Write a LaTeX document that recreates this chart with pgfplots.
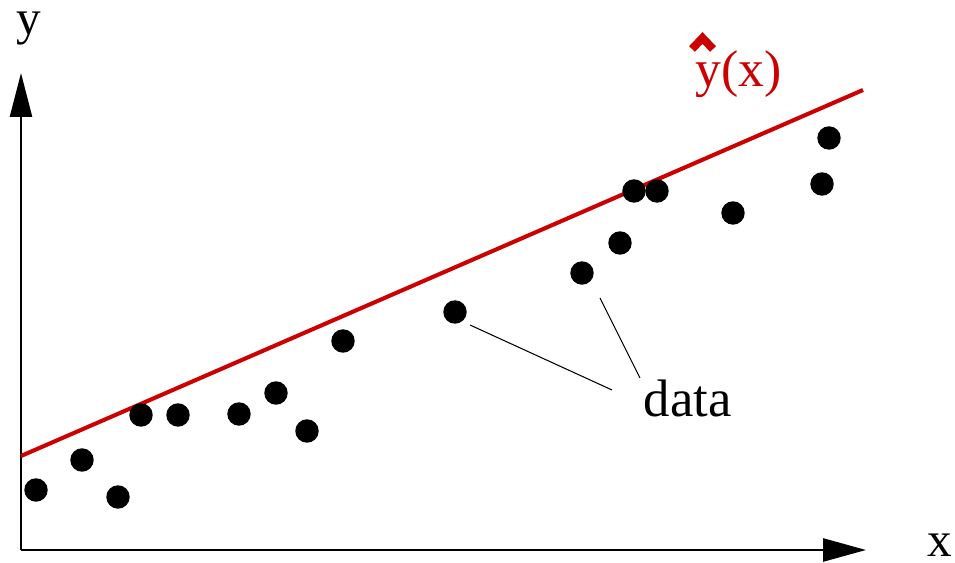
\documentclass[border=0pt]{standalone}
\usepackage{pgfplots}
\pgfplotsset{compat=1.18}
\usepackage{fontspec}
\setmainfont{Liberation Serif}
\usetikzlibrary{arrows.meta}
\definecolor{fitred}{RGB}{204,0,0}

\begin{document}
\begin{tikzpicture}
\begin{axis}[
  width=9.55cm, height=5.63cm, scale only axis,
  xmin=0, xmax=955, ymin=0, ymax=563,
  hide axis, clip=false,
]
% coordinate axes
\draw[line width=0.75pt, -{Triangle[length=4.3mm, width=2.3mm]}]
  (axis cs:21,13) -- (axis cs:866,13);
\draw[line width=0.75pt, -{Triangle[length=4.4mm, width=2.2mm]}]
  (axis cs:21,13) -- (axis cs:21,490);
\node[anchor=base, inner sep=0pt, font=\fontsize{14}{16}\selectfont] at (axis cs:29,528) {y};
\node[anchor=base, inner sep=0pt, font=\fontsize{14}{16}\selectfont] at (axis cs:940,6) {x};

% fitted line
\addplot[fitred, line width=1.15pt] coordinates {(21,107) (863,473)};
\node[anchor=base west, fitred, font=\fontsize{14.7}{17}\selectfont, inner sep=0pt] at (axis cs:695,476) {y(x)};
\draw[fitred, line width=2.3pt, line join=miter] (axis cs:692,514) -- (axis cs:702.5,525) -- (axis cs:713,514);

% observations
\addplot[only marks, mark=*, mark size=1.1mm, black] coordinates {
  (36,73) (82,103) (118,66) (141,148) (178,148) (239,149) (276,170)
  (307,132) (343,222) (455,251) (582,290) (620,320) (634,372)
  (657,372) (733,350) (822,379) (829,425)
};

% callout
\draw[line width=0.3pt] (axis cs:470,238) -- (axis cs:612,173);
\draw[line width=0.3pt] (axis cs:600,265) -- (axis cs:640,185);
\node[anchor=base west, inner sep=0pt, font=\fontsize{15}{18}\selectfont] at (axis cs:643,146) {data};
\end{axis}
\pgfresetboundingbox
\path[use as bounding box] (0,0) rectangle (9.55cm,5.63cm);
\end{tikzpicture}
\end{document}
